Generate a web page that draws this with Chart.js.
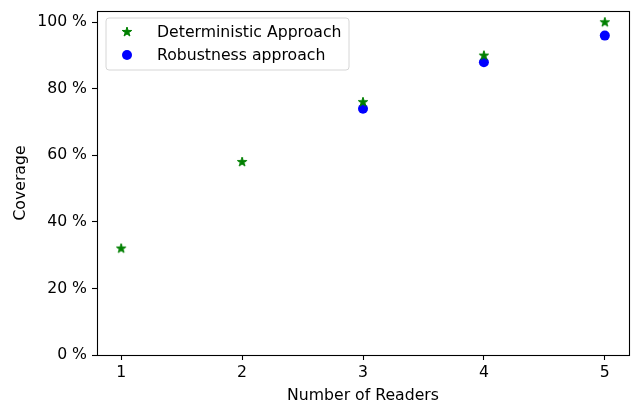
<!DOCTYPE html>
<html>
<head>
<meta charset="utf-8">
<script src="https://cdn.jsdelivr.net/npm/chart.js@4.4.0/dist/chart.umd.min.js"></script>
<style>
  html, body { margin: 0; padding: 0; background: #fff; }
  canvas { display: block; }
</style>
</head>
<body>
<canvas id="chart" width="631" height="407"></canvas>
<script>
var readers = [1, 2, 3, 4, 5];
var deterministic = [32, 58, 76, 90, 100];
var robustness = [null, null, 74, 88, 96];
var yTicks = [0, 20, 40, 60, 80, 100];
var seriesNames = ['Deterministic Approach', 'Robustness approach'];

var FONT = "'DejaVu Sans', sans-serif";
var FS = 15.7;

function toPoints(values) {
  var pts = [];
  values.forEach(function (v, i) {
    if (v !== null) pts.push({ x: readers[i], y: v });
  });
  return pts;
}

// filled five point star, like matplotlib's '*' marker
function makeStar(color, r) {
  var s = Math.ceil(r * 2 + 4);
  var c = document.createElement('canvas');
  c.width = s; c.height = s;
  var g = c.getContext('2d');
  var cx = s / 2, cy = s / 2, inner = r * 0.382;
  g.beginPath();
  for (var k = 0; k < 10; k++) {
    var rad = k % 2 ? inner : r;
    var a = -Math.PI / 2 + k * Math.PI / 5;
    g.lineTo(cx + rad * Math.cos(a), cy + rad * Math.sin(a));
  }
  g.closePath();
  g.fillStyle = color;
  g.fill();
  g.strokeStyle = color;
  g.lineWidth = 1;
  g.lineJoin = 'round';
  g.stroke();
  return c;
}

var star = makeStar('#008000', 5);

// axes box
var framePlugin = {
  id: 'frame',
  afterDraw: function (chart) {
    var a = chart.chartArea, ctx = chart.ctx;
    ctx.save();
    ctx.strokeStyle = '#000';
    ctx.lineWidth = 1.1;
    ctx.strokeRect(Math.round(a.left) + 0.5, Math.round(a.top) + 0.5,
      Math.round(a.right - a.left), Math.round(a.bottom - a.top));
    ctx.restore();
  }
};

// matplotlib-like legend in the upper left corner
var legendPlugin = {
  id: 'boxLegend',
  afterDraw: function (chart) {
    var ctx = chart.ctx, a = chart.chartArea;
    var x = a.left + 9, y = a.top + 7, w = 243, h = 52, r = 3;
    ctx.save();
    ctx.beginPath();
    ctx.moveTo(x + r, y);
    ctx.arcTo(x + w, y, x + w, y + h, r);
    ctx.arcTo(x + w, y + h, x, y + h, r);
    ctx.arcTo(x, y + h, x, y, r);
    ctx.arcTo(x, y, x + w, y, r);
    ctx.closePath();
    ctx.fillStyle = 'rgba(255,255,255,0.8)';
    ctx.fill();
    ctx.strokeStyle = '#d6d6d6';
    ctx.lineWidth = 1;
    ctx.stroke();

    ctx.font = FS + 'px ' + FONT;
    ctx.fillStyle = '#000';
    ctx.textBaseline = 'middle';
    chart.data.datasets.forEach(function (ds, i) {
      var my = y + 14 + i * 23, mx = x + 21;
      if (ds.pointStyle === 'circle') {
        ctx.beginPath();
        ctx.arc(mx, my, ds.pointRadius, 0, Math.PI * 2);
        ctx.fillStyle = ds.backgroundColor;
        ctx.fill();
      } else {
        ctx.drawImage(ds.pointStyle, mx - ds.pointStyle.width / 2, my - ds.pointStyle.height / 2);
      }
      ctx.fillStyle = '#000';
      ctx.fillText(ds.label, x + 51, my + 1);
    });
    ctx.restore();
  }
};

new Chart(document.getElementById('chart'), {
  type: 'scatter',
  data: {
    datasets: [
      {
        label: seriesNames[0],
        data: toPoints(deterministic),
        pointStyle: star,
        backgroundColor: '#008000',
        borderColor: '#008000',
        pointRadius: 5
      },
      {
        label: seriesNames[1],
        data: toPoints(robustness),
        pointStyle: 'circle',
        backgroundColor: '#0000ff',
        borderColor: '#0000ff',
        borderWidth: 0,
        pointRadius: 5
      }
    ]
  },
  options: {
    responsive: false,
    animation: false,
    layout: { autoPadding: false, padding: { left: 0, top: 11, right: 2, bottom: 0 } },
    plugins: {
      legend: { display: false },
      tooltip: { enabled: false }
    },
    scales: {
      x: {
        type: 'linear',
        min: 0.8,
        max: 5.2,
        afterBuildTicks: function (scale) {
          scale.ticks = readers.map(function (v) { return { value: v }; });
        },
        afterFit: function (scale) {
          scale.height = 52;
          scale.paddingLeft = 0;
          scale.paddingRight = 0;
        },
        border: { display: false },
        grid: { drawOnChartArea: false, tickLength: 5, color: '#000', tickWidth: 1.1 },
        ticks: {
          color: '#000',
          padding: 4,
          font: { family: FONT, size: FS },
          callback: function (v) { return v; }
        },
        title: {
          display: true,
          text: 'Number of Readers',
          color: '#000',
          font: { family: FONT, size: FS },
          padding: { top: 0, bottom: 2 }
        }
      },
      y: {
        type: 'linear',
        min: 0,
        max: 103.4,
        afterBuildTicks: function (scale) {
          scale.ticks = yTicks.map(function (v) { return { value: v }; });
        },
        afterFit: function (scale) {
          scale.width = 97;
          scale.paddingTop = 0;
          scale.paddingBottom = 0;
        },
        border: { display: false },
        grid: { drawOnChartArea: false, tickLength: 5, color: '#000', tickWidth: 1.1 },
        ticks: {
          color: '#000',
          padding: 5,
          font: { family: FONT, size: FS },
          callback: function (v) { return v + ' %'; }
        },
        title: {
          display: true,
          text: 'Coverage',
          color: '#000',
          font: { family: FONT, size: FS },
          padding: { top: 12, bottom: 0 }
        }
      }
    }
  },
  plugins: [framePlugin, legendPlugin]
});
</script>
</body>
</html>
